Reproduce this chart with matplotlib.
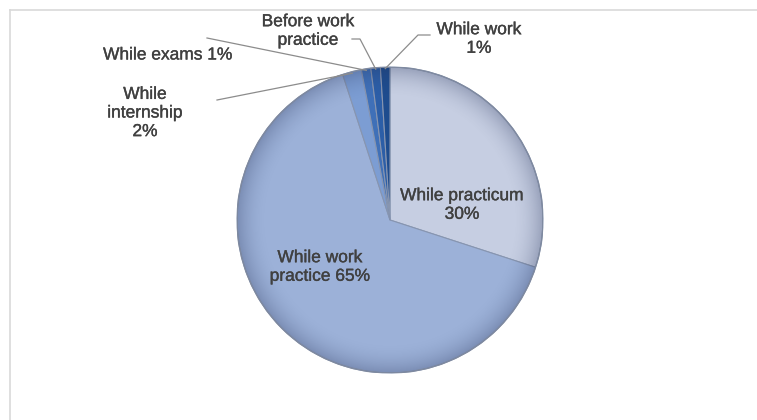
import numpy as np
import matplotlib
matplotlib.use("Agg")
import matplotlib.pyplot as plt
from matplotlib.lines import Line2D
from matplotlib.patches import Circle
import matplotlib.patheffects as pe

categories = ["While practicum", "While work practice", "While internship",
              "While exams", "Before work practice", "While work"]
values = [30, 65, 2, 1, 1, 1]
label_texts = ["While practicum\n30%", "While work\npractice 65%", "While\ninternship\n2%",
               "While exams 1%", "Before work\npractice", "While work\n1%"]
colors = ["#c6cee2", "#9cb1d8", "#7c9dd3", "#3f70b8", "#2c5ea7", "#1e4c8e"]

W, H = 757, 420
fig = plt.figure(figsize=(W / 100, H / 100), dpi=100)
fig.patch.set_facecolor("white")

cx, cy, R = 390, 220, 153
ax = fig.add_axes([(cx - R) / W, (H - cy - R) / H, 2 * R / W, 2 * R / H])
wedges, _ = ax.pie(values, colors=colors, startangle=90, counterclock=False,
                   radius=1, wedgeprops=dict(edgecolor="#8795b0", linewidth=0.8))

# bevel-like shading: darken towards the rim
n = 400
g = np.linspace(-1, 1, n)
X, Y = np.meshgrid(g, g)
r = np.sqrt(X ** 2 + Y ** 2)
alpha_dark = np.clip((r - 0.80) / 0.20, 0, 1) ** 2 * 0.28
shade = np.zeros((n, n, 4))
shade[..., 0] = 0.15
shade[..., 1] = 0.2
shade[..., 2] = 0.35
shade[..., 3] = alpha_dark
im = ax.imshow(shade, extent=(-1, 1, -1, 1), origin="lower", zorder=3, interpolation="bilinear")
im.set_clip_path(Circle((0, 0), 1.0, transform=ax.transData))
ax.set_xlim(-1, 1)
ax.set_ylim(-1, 1)
ax.set_aspect("auto")
ax.axis("off")
ax.add_patch(Circle((0, 0), 1.0, fill=False, edgecolor="#7f8aa0", lw=1.0, zorder=4))

def px(x, y):
    return ((x - cx) / R, (cy - y) / R)

text_color = "#404040"
fs = 12.5
label_pos = [(462, 205), (320, 267), (145, 113), (168, 55), (308, 31), (479, 39)]
for i, (txt, (lx, ly)) in enumerate(zip(label_texts, label_pos)):
    x, y = px(lx, ly)
    ax.text(x, y, txt, ha="center", va="center", fontsize=fs, color=text_color,
            family="Liberation Sans", linespacing=1.3, clip_on=False, zorder=5,
            path_effects=[pe.withStroke(linewidth=0.25, foreground=text_color)])

# leader lines for small slices
line_starts = {2: [(217, 100)], 3: [(207, 38)], 4: [(352, 39), (360, 39)], 5: [(430, 35), (418, 35)]}
for i, w in enumerate(wedges):
    if i not in line_starts:
        continue
    ang = np.deg2rad((w.theta1 + w.theta2) / 2)
    ex, ey = 0.99 * np.cos(ang), 0.99 * np.sin(ang)
    pts = [px(*p) for p in line_starts[i]] + [(ex, ey)]
    xs, ys = zip(*pts)
    ax.plot(xs, ys, color="#8c8c8c", lw=0.9, clip_on=False, zorder=5)

# chart area border
fig.add_artist(Line2D([10 / W, 10 / W], [0, 1 - 10 / H], transform=fig.transFigure,
                      color="#d9d9d9", lw=1.2))
fig.add_artist(Line2D([10 / W, 1], [1 - 10 / H, 1 - 10 / H], transform=fig.transFigure,
                      color="#d9d9d9", lw=1.2))

fig.savefig("out.png", dpi=100)
